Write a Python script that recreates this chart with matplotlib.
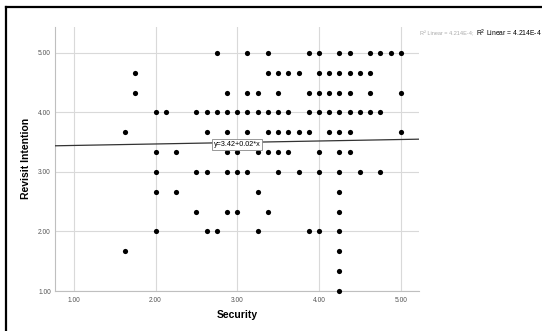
import matplotlib
matplotlib.use("Agg")
import matplotlib.pyplot as plt
from matplotlib.lines import Line2D

plt.rcParams['font.family'] = ['Liberation Sans', 'DejaVu Sans']

# Data: (Revisit Intention level) -> list of Security values
rows = {
    5.0:   [2.75, 3.125, 3.375, 3.875, 4.0, 4.25, 4.375, 4.625, 4.75, 4.875, 5.0],
    14/3:  [1.75, 3.375, 3.5, 3.625, 3.75, 4.0, 4.125, 4.25, 4.375, 4.5, 4.625],
    13/3:  [1.75, 2.875, 3.125, 3.25, 3.5, 3.875, 4.0, 4.125, 4.25, 4.375, 4.625, 5.0],
    4.0:   [2.0, 2.125, 2.5, 2.625, 2.75, 2.875, 3.0, 3.125, 3.25, 3.375, 3.5, 3.625,
            3.875, 4.0, 4.125, 4.25, 4.375, 4.5, 4.625, 4.75],
    11/3:  [1.625, 2.625, 2.875, 3.125, 3.375, 3.5, 3.625, 3.75, 3.875, 4.125, 4.25, 4.375, 5.0],
    10/3:  [2.0, 2.25, 2.875, 3.0, 3.25, 3.375, 3.5, 3.625, 4.0, 4.25, 4.375],
    3.0:   [2.0, 2.5, 2.625, 2.875, 3.0, 3.125, 3.5, 3.75, 4.0, 4.25, 4.5, 4.75],
    8/3:   [2.0, 2.25, 3.25, 4.25],
    7/3:   [2.5, 2.875, 3.0, 3.375, 4.25],
    2.0:   [2.0, 2.625, 2.75, 3.25, 3.875, 4.0, 4.25],
    5/3:   [1.625, 4.25],
    4/3:   [4.25],
    1.0:   [4.25],
}
security = [x for yv, xs in rows.items() for x in xs]
revisit = [yv for yv, xs in rows.items() for x in xs]

fit_intercept = 3.42
fit_slope = 0.025
fit_label = "y=3.42+0.02*x"

xticks = [1.0, 2.0, 3.0, 4.0, 5.0]
yticks = [1.0, 2.0, 3.0, 4.0, 5.0]

fig = plt.figure(figsize=(5.42, 3.31), dpi=100)
W, H = 542, 331
ax = fig.add_axes([55 / W, 1 - 291 / H, (418.7 - 55) / W, (291 - 26.7) / H])

xmin, xmax = 0.77, 5.22
ymin, ymax = 1.0, 5.44
ax.set_xlim(xmin, xmax)
ax.set_ylim(ymin, ymax)

ax.set_xticks(xticks)
ax.set_yticks(yticks)
ax.set_xticklabels([f"{t:.2f}" for t in xticks])
ax.set_yticklabels([f"{t:.2f}" for t in yticks])
ax.tick_params(axis='both', length=0, labelsize=4.8, colors='#555555')
ax.tick_params(axis='y', pad=3)
ax.tick_params(axis='x', pad=4)
ax.grid(True, color='#d9d9d9', linewidth=0.8)
ax.set_axisbelow(True)
for s in ['top', 'right']:
    ax.spines[s].set_visible(False)
for s in ['left', 'bottom']:
    ax.spines[s].set_color('#bfbfbf')
    ax.spines[s].set_linewidth(0.8)

ax.scatter(security, revisit, s=14, color='black', zorder=3, clip_on=False, linewidths=0)

xs_line = [xmin, xmax]
ys_line = [fit_intercept + fit_slope * v for v in xs_line]
ax.plot(xs_line, ys_line, color='#333333', linewidth=0.9, zorder=4)

ax.text(3.0, 3.46, fit_label, fontsize=5.2, ha='center', va='center', zorder=5,
        bbox=dict(boxstyle='square,pad=0.25', facecolor='white', edgecolor='#888888', linewidth=0.6))

ax.set_xlabel("Security", fontsize=7.5, fontweight='bold', labelpad=5)
ax.set_ylabel("Revisit Intention", fontsize=7.5, fontweight='bold', labelpad=5)

# R² annotation at top-right
t1 = fig.text(420 / W, 1 - 33.3 / H, "R² Linear = 4.214E-4;", fontsize=4.0, color='#aaaaaa',
              ha='left', va='center')
renderer = fig.canvas.get_renderer()
bb = t1.get_window_extent(renderer=renderer)
x_next = (bb.x1 + 2) / W
fig.text(x_next, 1 - 33.3 / H, r"R$^2$ Linear = 4.214E-4", fontsize=4.9, color='black',
         ha='left', va='center')

# outer frame (top & left)
fig.add_artist(Line2D([6 / W, 1], [1 - 6.5 / H, 1 - 6.5 / H], color='black', linewidth=1.6,
                      transform=fig.transFigure))
fig.add_artist(Line2D([6 / W, 6 / W], [0, 1 - 6.5 / H], color='black', linewidth=1.6,
                      transform=fig.transFigure))

fig.savefig("out.png", dpi=100, facecolor='white')
